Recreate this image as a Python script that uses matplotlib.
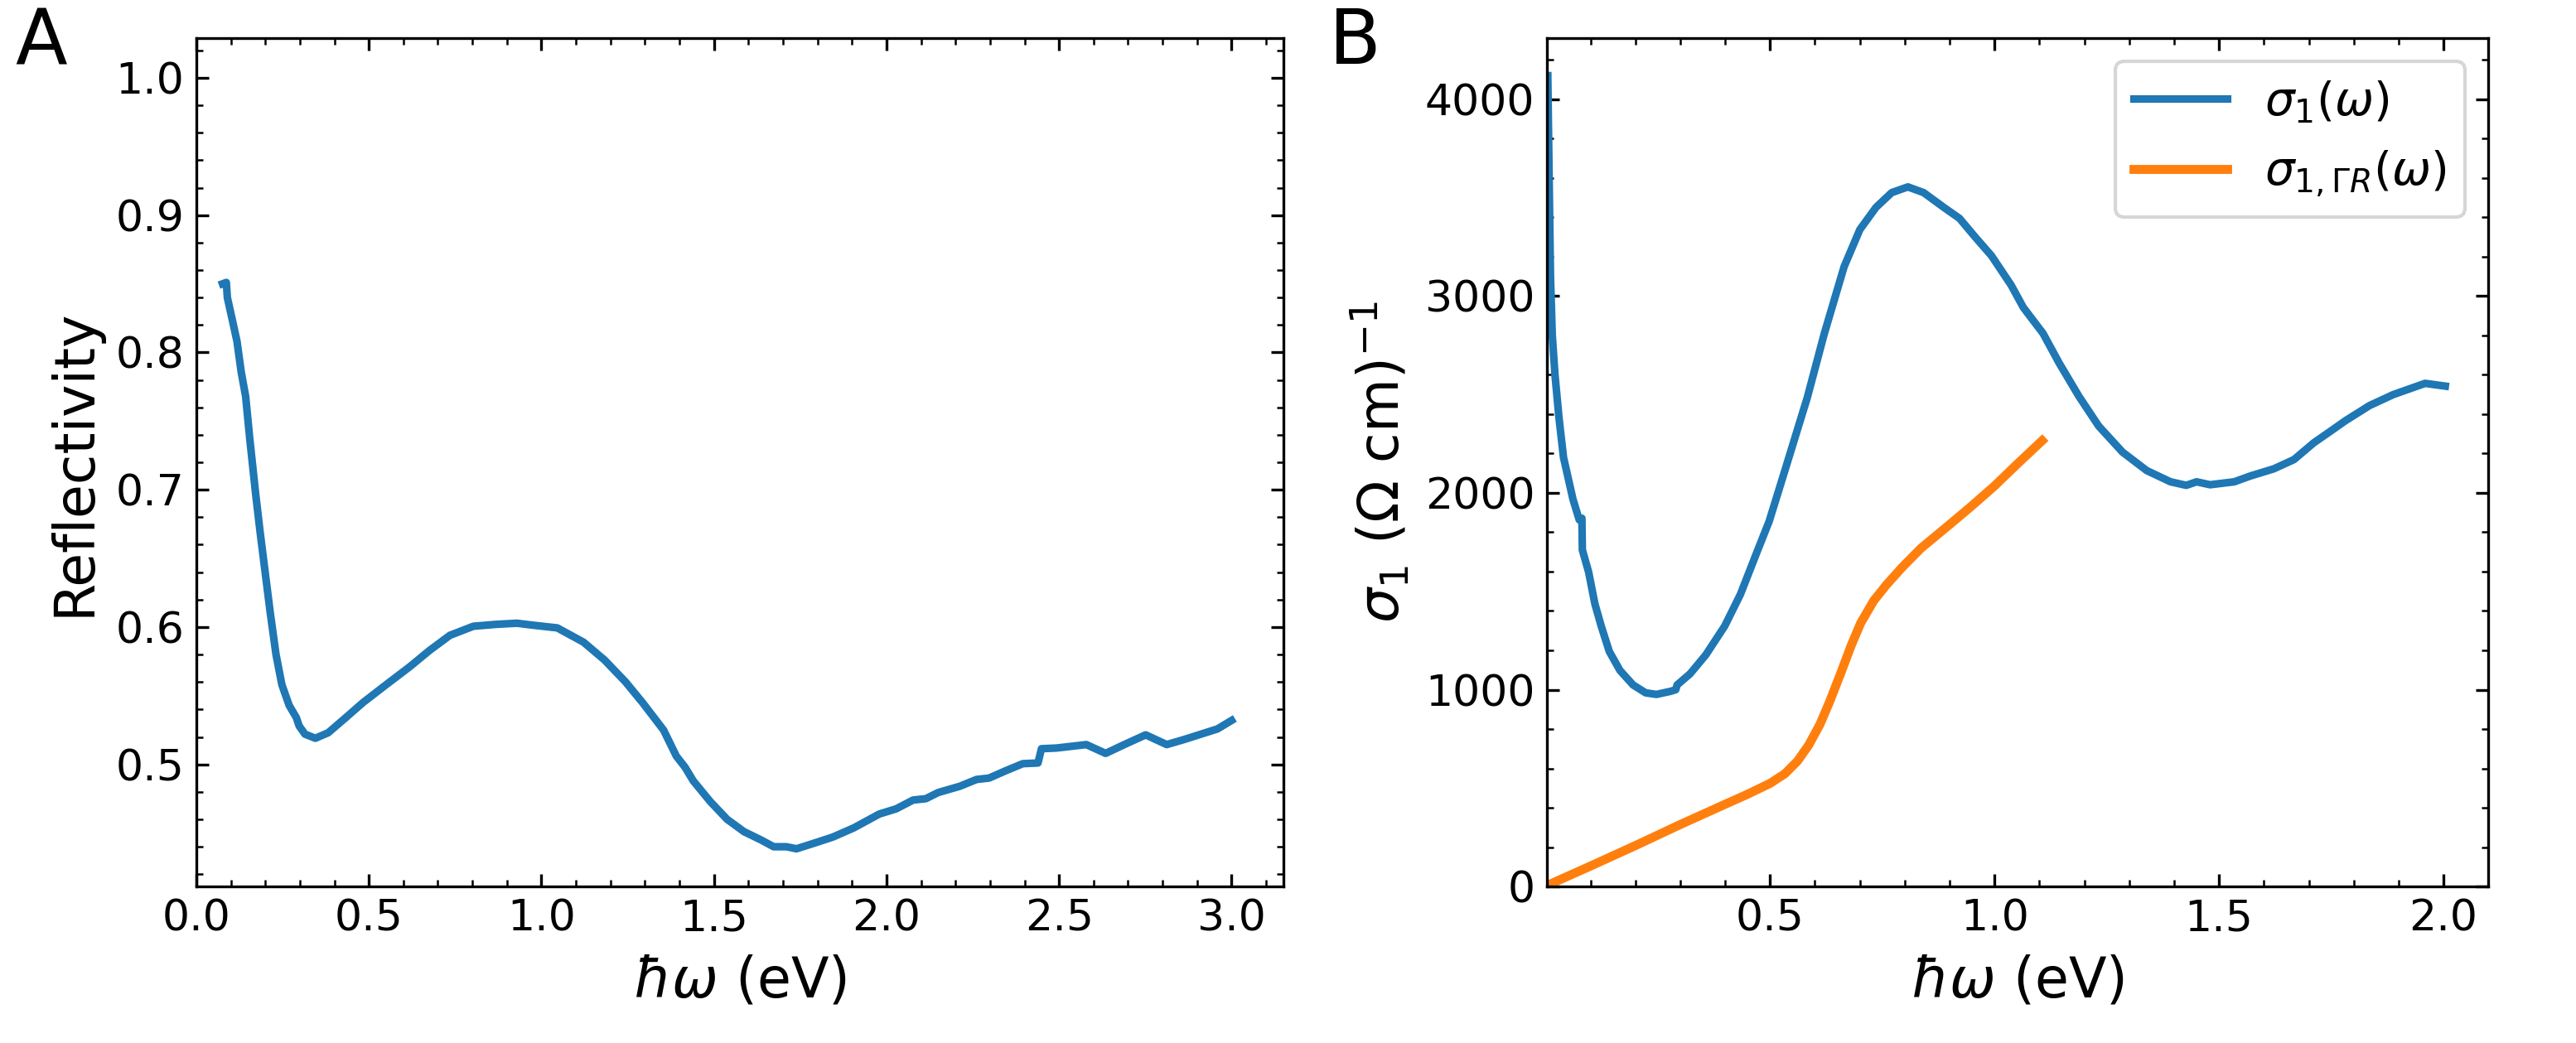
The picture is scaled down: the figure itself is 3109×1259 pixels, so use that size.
import matplotlib
matplotlib.use("Agg")
import matplotlib.pyplot as plt
from matplotlib.ticker import MultipleLocator

# panel A: reflectivity
energy_r = [0.076, 0.087, 0.090, 0.105, 0.118, 0.130, 0.143, 0.155, 0.172, 0.185,
            0.197, 0.214, 0.231, 0.248, 0.269, 0.290, 0.298, 0.315, 0.345, 0.382,
            0.433, 0.483, 0.550, 0.618, 0.676, 0.735, 0.803, 0.870, 0.929, 0.971,
            1.046, 1.122, 1.183, 1.244, 1.293, 1.354, 1.391, 1.416, 1.440, 1.489,
            1.538, 1.587, 1.636, 1.673, 1.710, 1.739, 1.783, 1.844, 1.905, 1.979,
            2.028, 2.077, 2.114, 2.150, 2.212, 2.261, 2.297, 2.346, 2.395, 2.439,
            2.449, 2.493, 2.579, 2.635, 2.689, 2.751, 2.812, 2.861, 2.959, 3.000]
reflectivity = [0.850, 0.851, 0.840, 0.823, 0.808, 0.786, 0.768, 0.737, 0.697, 0.669,
                0.645, 0.611, 0.580, 0.558, 0.543, 0.534, 0.528, 0.522, 0.519, 0.523,
                0.534, 0.545, 0.558, 0.571, 0.583, 0.594, 0.6006, 0.602, 0.6028, 0.6015,
                0.5994, 0.589, 0.576, 0.560, 0.545, 0.525, 0.506, 0.498, 0.488, 0.473,
                0.460, 0.451, 0.445, 0.440, 0.440, 0.4385, 0.442, 0.447, 0.4537, 0.4638,
                0.4676, 0.474, 0.475, 0.4795, 0.484, 0.489, 0.490, 0.4954, 0.5005, 0.501,
                0.5114, 0.5119, 0.5144, 0.508, 0.5144, 0.5215, 0.5144, 0.518, 0.5258, 0.532]

# panel B: optical conductivity
energy_s = [0.005, 0.008, 0.011, 0.015, 0.021, 0.030, 0.040, 0.061, 0.075, 0.081,
            0.082, 0.096, 0.110, 0.124, 0.142, 0.166, 0.195, 0.223, 0.247, 0.279,
            0.290, 0.293, 0.322, 0.357, 0.399, 0.434, 0.470, 0.498, 0.533, 0.583,
            0.621, 0.665, 0.700, 0.736, 0.771, 0.807, 0.842, 0.887, 0.922, 0.957,
            0.993, 1.037, 1.064, 1.108, 1.144, 1.188, 1.232, 1.285, 1.339, 1.392,
            1.427, 1.450, 1.480, 1.534, 1.569, 1.622, 1.667, 1.711, 1.747, 1.782,
            1.835, 1.888, 1.959, 2.004]
sigma1 = [4119, 3600, 3100, 2800, 2600, 2380, 2180, 1968, 1863, 1871,
          1710, 1597, 1435, 1323, 1194, 1097, 1024, 984, 976, 992,
          1000, 1024, 1081, 1177, 1323, 1484, 1694, 1855, 2113, 2484,
          2810, 3149, 3337, 3450, 3525, 3554, 3525, 3450, 3394, 3299,
          3205, 3055, 2942, 2810, 2659, 2490, 2339, 2207, 2113, 2056,
          2038, 2056, 2041, 2056, 2085, 2122, 2169, 2254, 2311, 2367,
          2443, 2499, 2556, 2542]

energy_gr = [0.003, 0.101, 0.202, 0.300, 0.401, 0.449, 0.500, 0.533, 0.561, 0.586,
             0.611, 0.632, 0.657, 0.681, 0.702, 0.731, 0.759, 0.794, 0.836, 0.900,
             0.950, 1.000, 1.050, 1.106]
sigma1_gr = [5, 105, 210, 315, 419, 468, 524, 573, 637, 718,
             823, 935, 1081, 1226, 1339, 1452, 1532, 1621, 1718, 1839,
             1935, 2035, 2145, 2265]

plt.rcParams['font.family'] = ['DejaVu Sans']
fig = plt.figure(figsize=(3109 / 300, 1259 / 300), dpi=300)
axA = fig.add_axes([0.0762, 0.150, 0.4220, 0.8135])
axB = fig.add_axes([0.6005, 0.150, 0.3655, 0.8135])

tick_fs = 12.5
label_fs = 16

axA.plot(energy_r, reflectivity, color='#1f77b4', lw=2.2)
axA.set_xlim(0, 3.15)
axA.set_ylim(0.411, 1.029)
axA.xaxis.set_major_locator(MultipleLocator(0.5))
axA.xaxis.set_minor_locator(MultipleLocator(0.1))
axA.yaxis.set_major_locator(MultipleLocator(0.1))
axA.yaxis.set_minor_locator(MultipleLocator(0.02))
axA.set_xlabel(r'$\hbar\omega$ (eV)', fontsize=label_fs)
axA.set_ylabel('Reflectivity', fontsize=label_fs)

axB.plot(energy_s, sigma1, color='#1f77b4', lw=2.2, label=r'$\sigma_1(\omega)$')
axB.plot(energy_gr, sigma1_gr, color='#ff7f0e', lw=2.6, label=r'$\sigma_{1,\Gamma R}(\omega)$')
axB.set_xlim(0.003, 2.1)
axB.set_ylim(0, 4310)
axB.xaxis.set_major_locator(MultipleLocator(0.5))
axB.xaxis.set_minor_locator(MultipleLocator(0.1))
axB.yaxis.set_major_locator(MultipleLocator(1000))
axB.yaxis.set_minor_locator(MultipleLocator(200))
axB.set_xlabel(r'$\hbar\omega$ (eV)', fontsize=label_fs)
axB.set_ylabel(r'$\sigma_1\ (\Omega\ \mathrm{cm})^{-1}$', fontsize=label_fs)
axB.legend(loc='upper right', fontsize=13.5, handlelength=2.0)

for ax in (axA, axB):
    ax.tick_params(which='both', direction='in', top=True, right=True, labelsize=tick_fs)

fig.text(0.006, 0.995, 'A', fontsize=22, ha='left', va='top')
fig.text(0.516, 0.995, 'B', fontsize=22, ha='left', va='top')

fig.savefig('out.png', dpi=300)
